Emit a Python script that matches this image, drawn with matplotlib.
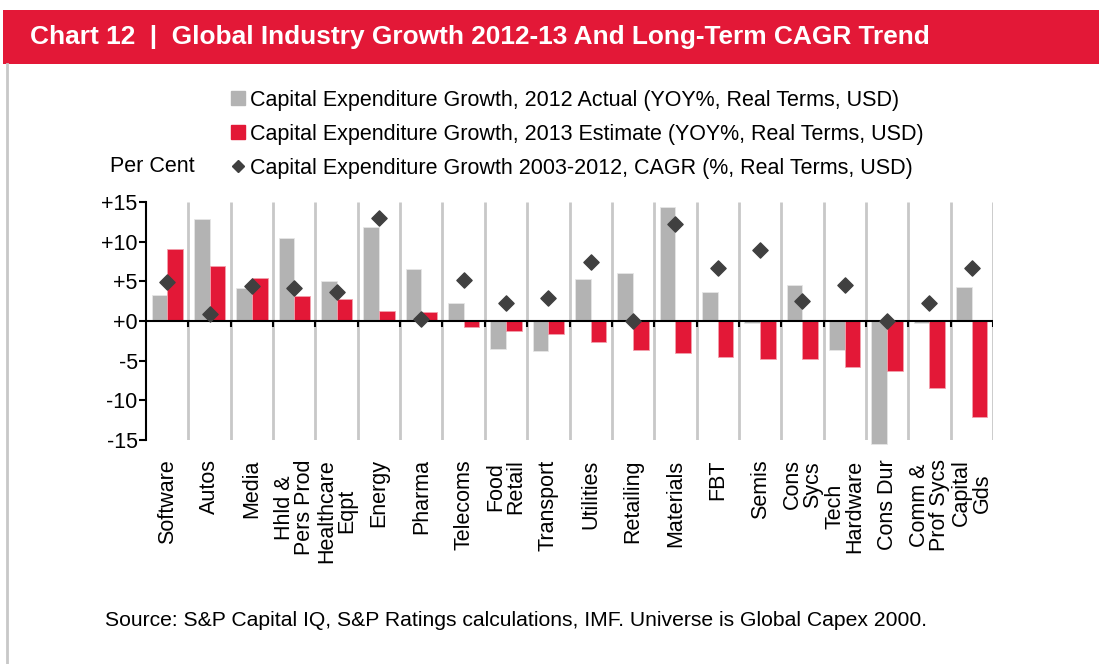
import numpy as np
import matplotlib
matplotlib.use('Agg')
import matplotlib.pyplot as plt
from matplotlib.patches import Rectangle
from matplotlib.lines import Line2D
from matplotlib.ticker import FuncFormatter

# Data
categories = ['Software', 'Autos', 'Media', 'Hhld &\nPers Prod', 'Healthcare\nEqpt',
              'Energy', 'Pharma', 'Telecoms', 'Food\nRetail', 'Transport',
              'Utilities', 'Retailing', 'Materials', 'FBT', 'Semis',
              'Cons\nSycs', 'Tech\nHardware', 'Cons Dur', 'Comm &\nProf Sycs', 'Capital\nGds']
actual_2012 = [3.3, 12.9, 4.1, 10.4, 5.1, 11.9, 6.6, 2.3, -3.5, -3.8,
               5.3, 6.1, 14.4, 3.6, -0.3, 4.6, -3.7, -15.5, -0.3, 4.3]
estimate_2013 = [9.1, 6.9, 5.4, 3.1, 2.8, 1.3, 1.1, -0.7, -1.2, -1.7,
                 -2.7, -3.7, -4.0, -4.5, -4.8, -4.8, -5.8, -6.3, -8.5, -12.1]
cagr_2003_2012 = [4.9, 0.9, 4.4, 4.1, 3.6, 13.0, 0.3, 5.2, 2.3, 2.9,
                  7.4, 0.0, 12.2, 6.7, 8.9, 2.5, 4.6, 0.0, 2.3, 6.7]

legend_labels = ['Capital Expenditure Growth, 2012 Actual (YOY%, Real Terms, USD)',
                 'Capital Expenditure Growth, 2013 Estimate (YOY%, Real Terms, USD)',
                 'Capital Expenditure Growth 2003-2012, CAGR (%, Real Terms, USD)']

RED = '#e31837'
GREY = '#b3b3b3'
DARK = '#404040'
FS = 15.5

plt.rcParams['font.family'] = ['Liberation Sans', 'DejaVu Sans']

fig = plt.figure(figsize=(10.99, 6.64), dpi=100)

# header band
fig.add_artist(Rectangle((3 / 1099, 1 - 64 / 664), 1, 54 / 664, transform=fig.transFigure,
                         facecolor=RED, edgecolor='none'))
fig.text(30 / 1099, 1 - 37 / 664,
         'Chart 12  |  Global Industry Growth 2012-13 And Long-Term CAGR Trend',
         color='white', fontsize=18.9, fontweight='bold', va='center', ha='left')
# left border
fig.add_artist(Line2D([7 / 1099, 7 / 1099], [0, 1 - 64 / 664], transform=fig.transFigure,
                      color='#c8c8c8', lw=2))

ax = fig.add_axes([146 / 1099, 1 - 440 / 664, 847 / 1099, 238 / 664])

x = np.arange(len(categories))
w = 0.37
b1 = ax.bar(x - 0.185, actual_2012, width=w, color=GREY, edgecolor='#e6e6e6', lw=0.6,
            zorder=3, clip_on=False)
b2 = ax.bar(x + 0.185, estimate_2013, width=w, color=RED, edgecolor='#f2a0ad', lw=0.6,
            zorder=3, clip_on=False)
sc = ax.scatter(x, cagr_2003_2012, marker='D', s=60, color=DARK, zorder=5, clip_on=False)

# vertical separators and zero line
bounds = x + 0.5
ax.vlines(bounds, -15, 15, color='#c8c8c8', lw=2, zorder=1)
ax.axhline(0, color='black', lw=1.5, zorder=4)
ax.vlines(bounds, -0.7, 0, color='black', lw=1.5, zorder=4)

ax.set_xlim(-0.5, len(categories) - 0.5)
ax.set_ylim(-15, 15)
ax.set_yticks([15, 10, 5, 0, -5, -10, -15])
ax.yaxis.set_major_formatter(FuncFormatter(lambda v, p: '{:+d}'.format(int(round(v)))))
ax.tick_params(axis='y', direction='out', length=5, width=1.5, labelsize=FS, pad=1)
ax.set_xticks(x)
ax.set_xticklabels(categories, rotation=90, fontsize=FS, linespacing=0.95)
ax.tick_params(axis='x', length=0, pad=14)
for s in ['top', 'right', 'bottom']:
    ax.spines[s].set_visible(False)
ax.spines['left'].set_linewidth(1.5)

# legend
handles = [Line2D([], [], ls='none', marker='s', ms=10, color=GREY),
           Line2D([], [], ls='none', marker='s', ms=10, color=RED),
           Line2D([], [], ls='none', marker='D', ms=6, color=DARK)]
fig.legend(handles, legend_labels, loc='upper left', bbox_to_anchor=(222 / 1099, 1 - 79 / 664),
           frameon=False, fontsize=FS, handlelength=0.5, handletextpad=0.3,
           labelspacing=0.6, borderpad=0)

fig.text(195 / 1099, 1 - 167 / 664, 'Per Cent', fontsize=FS, ha='right', va='center')
fig.text(105 / 1099, 1 - 620 / 664,
         'Source: S&P Capital IQ, S&P Ratings calculations, IMF. Universe is Global Capex 2000.',
         fontsize=15.2, ha='left', va='center')

fig.savefig('out.png', dpi=100)
